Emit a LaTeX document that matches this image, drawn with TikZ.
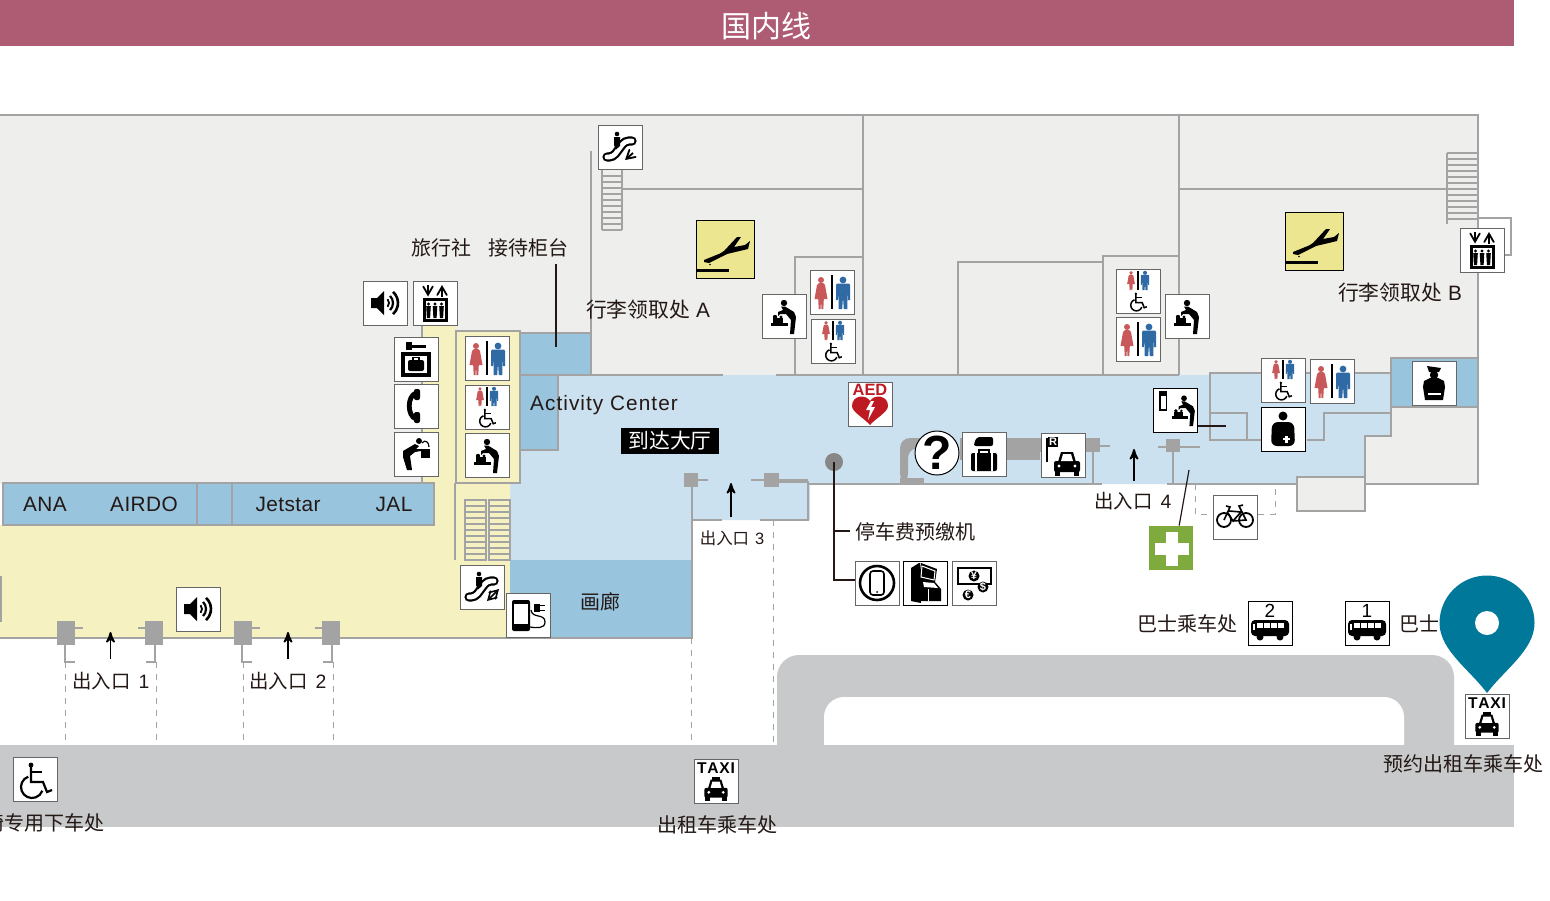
\documentclass[tikz,border=0pt]{standalone}
\usepackage{fontspec}
\setmainfont{Liberation Sans}
\newfontfamily\cjk{Noto Sans CJK SC}
\usetikzlibrary{arrows,positioning}

\definecolor{banner}{HTML}{AE5B74}
\definecolor{floorgray}{HTML}{EEEEEC}
\definecolor{wallgray}{HTML}{A3A3A3}
\definecolor{hallblue}{HTML}{CCE1EF}
\definecolor{roomblue}{HTML}{98C4DD}
\definecolor{lobbyyellow}{HTML}{F5F1C0}
\definecolor{roadgray}{HTML}{C8C9CA}
\definecolor{planeyellow}{HTML}{ECE690}
\definecolor{ink}{HTML}{231815}
\definecolor{wcred}{HTML}{C9585A}
\definecolor{wcblue}{HTML}{2F6AA5}
\definecolor{aedred}{HTML}{BE1A22}
\definecolor{crossgreen}{HTML}{7FAB3E}
\definecolor{pinteal}{HTML}{007899}

\tikzset{
  iconbox/.style={draw=black!60,fill=white,minimum size=22pt,inner sep=0pt,line width=.5pt},
  lbl/.style={text=ink,inner sep=0pt,font=\fontsize{10.4}{12}\selectfont},
  cjklbl/.style={text=ink,inner sep=0pt,font=\cjk\fontsize{10}{12}\selectfont},
  wall/.style={draw=wallgray,line width=1.4pt},
  lead/.style={draw=ink,line width=.6pt},
  walkin/.style={->,>=stealth',draw=black,line width=.9pt},
  rung/.style={draw=wallgray,line width=.7pt},
  womanfig/.pic={
    \fill[wcred] (0,-12) circle (3);
    \fill[wcred] (-2,-9) -- (2,-9) -- (4,-7) -- (6.5,7) -- (2.8,7) -- (2.3,17) -- (.5,17) -- (0,8)
      -- (-.5,17) -- (-2.3,17) -- (-2.8,7) -- (-6.5,7) -- (-4,-7) -- cycle;
  },
  manfig/.pic={
    \fill[wcblue] (0,-12) circle (3.4);
    \fill[wcblue] (-6,-8.5) -- (6,-8.5) -- (7,-7) -- (7,8) -- (5.2,8) -- (4.7,-2) -- (4.3,17) -- (.8,17) -- (0,5)
      -- (-.8,17) -- (-4.3,17) -- (-4.7,-2) -- (-5.2,8) -- (-7,8) -- (-7,-7) -- cycle;
  },
  wc/.pic={
    \pic at (-11,0) {womanfig};
    \pic at (11,0) {manfig};
    \fill[black] (-1.2,-17) rectangle (1.2,17);
  },
  wheelchair/.pic={
    \fill (-4,-14) circle (2.4);
    \draw (-4,-13) -- (-4,3) -- (8,3) -- (12,13) -- (17,11);
    \draw (-4,-7) -- (7,-7);
    \draw (-3,8) ++(-110:11) arc (-110:-340:11);
  },
  wcd/.pic={
    \pic[scale=.6] at (-7,-11) {womanfig};
    \pic[scale=.6] at (7,-11) {manfig};
    \fill[black] (-.6,-20) rectangle (.6,-1);
    \pic[scale=.52,line width=.75pt] at (0,10) {wheelchair};
  },
  speaker/.pic={
    \fill (-14,-5) -- (-8,-5) -- (-1,-12) -- (-1,12) -- (-8,5) -- (-14,5) -- cycle;
    \draw[line width=.9pt] (-2,0) ++(-40:6) arc (-40:40:6);
    \draw[line width=1.1pt] (-2,0) ++(-45:10) arc (-45:45:10);
    \draw[line width=1.3pt] (-2,0) ++(-48:15) arc (-48:48:15);
  },
  liftbox/.pic={
    \draw[->,>=angle 60,line width=.9pt] (-7,-18) -- (-7,-6.5);
    \draw[->,>=angle 60,line width=.9pt] (7,-6.5) -- (7,-18);
    \draw[line width=1.5pt] (-11,-4) rectangle (11,17);
    \foreach \px in {-6.5,0,6.5} {
      \fill (\px,1) circle (1.6);
      \fill (\px-2.3,3) -- (\px+2.3,3) -- (\px+1.6,15) -- (\px-1.6,15) -- cycle;
    }
  },
  escalator/.pic={
    \draw[line width=4.6pt,line cap=round,rounded corners=2pt] (-13,10) -- (-7,10) -- (5,-6) -- (12,-6);
    \draw[white,line width=2.4pt,line cap=round,rounded corners=2pt] (-13,10) -- (-7,10) -- (5,-6) -- (12,-6);
    \fill (-3,-13) circle (2.3);
    \fill (-6,-10) -- (0,-10) -- (0,-1) -- (-4,2.5) -- (-6,-2) -- cycle;
  },
  locker/.pic={
    \fill (-10,-17) rectangle (-4,-9);
    \fill (-4,-14.5) rectangle (10,-11.5);
    \draw[line width=1.6pt] (-13,-5) rectangle (13,16);
    \fill[rounded corners=1] (-8,1) rectangle (8,12);
    \draw[line width=.7pt] (-3,1) -- (-3,-1.5) -- (3,-1.5) -- (3,1);
  },
  handset/.pic={
    \draw[line width=2.4pt] (0,-13) .. controls (-9,-10) and (-9,10) .. (0,13);
    \fill[rounded corners=1] (-2,-17) rectangle (4,-6);
    \fill[rounded corners=1] (-2,6) rectangle (4,17);
  },
  fountain/.pic={
    \fill (3,-13) circle (3);
    \fill (-13,-3) -- (-1,-10) -- (3,-8) -- (0,-5) -- (5,-5) -- (5,-3) -- (-1,-2) -- (-6,2)
      -- (-4,16) -- (-9,16) -- (-13,3) -- cycle;
    \fill (5,-5) rectangle (14,4);
    \draw[line width=.6pt] (6,-11) .. controls (9,-15) and (13,-12) .. (13,-7);
  },
  babyfig/.pic={
    \fill (0,-13) circle (3.2);
    \fill (-3,-9.5) -- (1,-9.5) -- (10,-4) -- (12,1) -- (10,18) -- (6,18) -- (7,4) -- (2,-2)
      -- (-4,-2) -- (-6,0) -- (-6,-4) -- (-1,-6) -- cycle;
    \fill (-13,7) rectangle (4,10);
    \fill (-11,2) rectangle (-1,7);
    \fill (-9,1) circle (2.2);
    \fill (-3,1) circle (1.6);
  },
  arrivalplane/.pic={
    \fill (-21,11) -- (-5,4.5) -- (-1,2) -- (12,-12) -- (16,-12) -- (9,-2) -- (20,-4) -- (25,-8) -- (23,0)
      -- (2,5) -- (-16,14) -- (-21,13) -- cycle;
    \fill (-15,15.5) circle (.9);
    \fill (-29,20) rectangle (4,23);
  },
  aedmark/.pic={
    \node[font=\bfseries\fontsize{8.2}{9}\selectfont,text=aedred,inner sep=0pt] at (0,-14.5) {AED};
    \fill[aedred] (0,21) .. controls (-6,14) and (-18,8) .. (-18,2) .. controls (-18,-9) and (-4,-10) .. (0,-3)
      .. controls (4,-10) and (18,-9) .. (18,2) .. controls (18,8) and (6,14) .. (0,21) -- cycle;
    \fill[white] (1,-3) -- (-4,6) -- (0,6) -- (-2,16) -- (5,3) -- (1,3) -- (4,-3) -- cycle;
  },
  luggage/.pic={
    \fill[rounded corners=1] (-7,-17) -- (9,-17) -- (9,-8) -- (-10,-8) -- (-10,-11) -- cycle;
    \draw[line width=.9pt] (-5,-1) -- (-5,-4) -- (5,-4) -- (5,-1);
    \fill[rounded corners=1] (-13,-1) rectangle (13,17);
    \draw[white,line width=.6pt] (-8,-1) -- (-8,17) (8,-1) -- (8,17);
  },
  carfig/.pic={
    \fill[rounded corners=1] (-13,2) rectangle (13,13);
    \fill (-9,3) -- (-6,-7) -- (6,-7) -- (9,3) -- cycle;
    \fill[white] (-6,2) -- (-4,-5) -- (4,-5) -- (6,2) -- cycle;
    \fill (-12,12) rectangle (-7,17); \fill (7,12) rectangle (12,17);
    \fill[white] (-8,7) circle (1.7); \fill[white] (8,7) circle (1.7);
  },
  rentcar/.pic={
    \pic at (4,4) {carfig};
    \draw[line width=.7pt] (-16,-17) -- (-16,7);
    \fill (-15,-18) rectangle (-5,-8);
    \node[font=\bfseries\fontsize{5.5}{6}\selectfont,text=white,inner sep=0pt] at (-10,-13) {R};
  },
  phonering/.pic={
    \draw[line width=1.3pt] (0,0) circle (17);
    \draw[line width=.8pt,rounded corners=1.5] (-7,-12) rectangle (7,12);
    \fill (0,9) circle (1);
  },
  ticketbox/.pic={
    \fill (-14,-15) -- (-6,-20) -- (-5,-20) -- (-4,20) -- (-14,18) -- cycle;
    \fill (-6,-4) -- (-4,-20) -- (12,-14) -- (10,-1) -- (16,6) -- (16,18) -- (-6,18) -- cycle;
    \draw[white,line width=.5pt] (-3,-17) -- (10,-12) -- (9,-3) -- (-4,-6) -- cycle;
    \fill[white] (-2,-1) -- (9,0) -- (13,5) -- (-1,4) -- cycle;
    \draw[white,line width=.5pt] (3,18) -- (3,6);
  },
  cashbox/.pic={
    \draw[line width=1pt] (-16,-15) rectangle (17,1);
    \fill (0,-7) circle (5.5);
    \node[font=\bfseries\fontsize{5.5}{6}\selectfont,text=white,inner sep=0pt] at (0,-7) {¥};
    \fill (9,4) circle (5.5);
    \node[font=\bfseries\fontsize{5.5}{6}\selectfont,text=white,inner sep=0pt] at (9,4) {\$};
    \fill (-6,12) circle (5.5);
    \node[font=\bfseries\fontsize{5.5}{6}\selectfont,text=white,inner sep=0pt] at (-6,12) {€};
  },
  bikefig/.pic={
    \draw[line width=.9pt] (-11,3) circle (7);
    \draw[line width=.9pt] (11,3) circle (7);
    \draw[line width=.8pt] (-11,3) -- (-5,-10) -- (-9,-11) (-6,-6) -- (6,-5) -- (-2,4) -- (-7,-4)
      (-2,4) -- (11,3) -- (4,-11) -- (8,-12);
  },
  officer/.pic={
    \fill (-7,-17) -- (7,-15) -- (5,-11) -- (-5,-11) -- cycle;
    \fill (0,-8) circle (4.2);
    \fill (-4,-5) -- (4,-5) -- (10,-2) -- (11,4) -- (9,17) -- (-9,17) -- (-11,4) -- (-10,-2) -- cycle;
    \fill[white] (-6,10) rectangle (7,12);
  },
  aidperson/.pic={
    \fill (0,-13) circle (4.5);
    \fill[rounded corners=3] (-11,-7) -- (11,-7) -- (12,17) -- (-12,17) -- cycle;
    \fill[white] (0,8.7) rectangle (7,11.3); \fill[white] (2.2,6.5) rectangle (4.8,13.5);
  },
  chargefig/.pic={
    \fill[rounded corners=1] (-16,-15) rectangle (2,16);
    \fill[white] (-14,-11) rectangle (0,9);
    \draw[line width=.6pt] (3,-5) .. controls (4,4) and (17,-2) .. (17,7) .. controls (17,14) and (8,13) .. (2,12);
    \fill (6,-11) rectangle (12,-3);
    \fill (12,-10) rectangle (17,-8.7); \fill (12,-5.5) rectangle (17,-4.2);
  },
  busfig/.pic={
    \fill[rounded corners=2] (-19,-3) rectangle (19,13);
    \foreach \wx in {-13,-6,1,8} { \fill[white] (\wx,0) rectangle (\wx+5.5,5); }
    \fill[white] (-17,1) rectangle (-15,7);
    \fill (-10,14) circle (3.5); \fill (10,14) circle (3.5);
  },
  taxifig/.pic={
    \node[font=\bfseries\fontsize{7.8}{9}\selectfont,inner sep=0pt] at (0,-13) {T\hspace{.4pt}A\hspace{.4pt}X\hspace{.4pt}I};
    \pic[scale=.9] at (0,5) {carfig};
    \fill (-4,-4) rectangle (4,-1);
  }
}

\begin{document}
\begin{tikzpicture}[x=.5pt,y=-.5pt]
  \useasboundingbox (0,0) rectangle (1550,900);
  \fill[white] (0,0) rectangle (1550,900);

  % band and road
  \fill[banner] (0,0) rectangle (1514,46);
  \fill[roadgray,rounded corners=11pt] (777,800) -- (777,655) -- (1454,655) -- (1454,800) -- cycle;
  \fill[white,rounded corners=10pt] (824,800) -- (824,697) -- (1404,697) -- (1404,800) -- cycle;
  \fill[roadgray] (0,745) rectangle (1514,827);

  % floors
  \fill[floorgray] (0,115) rectangle (1478,484);
  \fill[floorgray] (1297,477) rectangle (1365,511);
  \fill[hallblue] (510,375) -- (1210,375) -- (1210,373) -- (1391,373) -- (1391,436) -- (1365,436) -- (1365,477)
    -- (1297,477) -- (1297,484) -- (810,484) -- (810,520) -- (692,520) -- (692,560) -- (510,560) -- cycle;
  \fill[lobbyyellow] (0,525) -- (434,525) -- (434,483) -- (422,483) -- (422,325) -- (456,325) -- (456,331)
    -- (520,331) -- (520,483) -- (510,483) -- (510,638) -- (0,638) -- cycle;
  \fill[roomblue] (3,483) rectangle (434,525);
  \fill[roomblue] (520,333) rectangle (591,375);
  \fill[roomblue] (520,375) rectangle (558,450);
  \fill[roomblue] (510,560) rectangle (692,638);
  \fill[roomblue] (1391,358) rectangle (1478,407);

  % walls
  \draw[wall] (0,115) -- (1478,115) -- (1478,484) -- (1365,484);
  \draw[wall] (1478,218) -- (1511,218) -- (1511,255) -- (1500,255);
  \draw[wall] (591,151) -- (591,375) (623,189) -- (863,189) (863,115) -- (863,375);
  \draw[wall] (1179,115) -- (1179,375) (1179,189) -- (1447,189);
  \draw[wall] (795,375) -- (795,257) -- (863,257);
  \draw[wall] (958,375) -- (958,262) -- (1103,262) (1103,375) -- (1103,256) -- (1179,256);
  \draw[wall] (520,375) -- (723,375) (776,375) -- (1179,375);
  \draw[wall] (520,333) -- (591,333) (558,375) -- (558,450) -- (520,450);
  \draw[wall] (456,331) rectangle (520,483);
  \draw[wall,line width=1pt] (422,325) -- (422,483);
  \draw[wall] (455,483) -- (455,560);
  \draw[wall] (3,483) rectangle (434,525);
  \draw[wall] (197,483) -- (197,525) (232,483) -- (232,525);
  \draw[wall,line width=.8pt] (-5,577) rectangle (1,621);
  \draw[wall] (0,638) -- (692,638) -- (692,480);
  \draw[wall] (692,520) -- (722,520) (760,520) -- (808,520) -- (808,482) -- (765,482);
  \draw[wall] (808,484) -- (1102,484) (1167,484) -- (1297,484);
  \draw[wall] (1297,484) -- (1297,477) -- (1365,477) -- (1365,511) -- (1297,511) -- (1297,484);
  \draw[wall] (1365,484) -- (1365,436) -- (1391,436) -- (1391,358) -- (1478,358) (1391,407) -- (1478,407);
  \draw[wall] (1391,373) -- (1210,373) -- (1210,440) -- (1261,440);
  \draw[wall] (1210,413) -- (1247,413) -- (1247,440);
  \draw[wall] (1307,440) -- (1324,440) -- (1324,413) -- (1391,413);

  % stairs
  \draw[wall] (602,170) -- (602,230) (622,170) -- (622,230);
  \foreach \sy in {176,182,...,230} { \draw[rung] (602,\sy) -- (622,\sy); }
  \draw[rung] (1447,153) -- (1447,224);
  \foreach \sy in {153,159,...,222} { \draw[rung] (1447,\sy) -- (1478,\sy); }
  \draw[wall] (465,500) rectangle (486,560) (489,500) rectangle (510,560);
  \foreach \sy in {506,512,...,556} { \draw[rung] (465,\sy) -- (486,\sy) (489,\sy) -- (510,\sy); }

  % entrance gates
  \foreach \gx in {0,177} {
    \fill[wallgray] (57+\gx,621) rectangle (75+\gx,645);
    \fill[wallgray] (145+\gx,621) rectangle (163+\gx,645);
    \draw[wall] (75+\gx,628) -- (83+\gx,628) (145+\gx,628) -- (138+\gx,628);
    \draw[wall] (65+\gx,645) -- (65+\gx,662) -- (75+\gx,662);
    \draw[wall] (155+\gx,645) -- (155+\gx,662) -- (146+\gx,662);
  }
  \fill[wallgray] (684,473) rectangle (698,487);
  \draw[wall] (698,480) -- (708,480);
  \fill[wallgray] (764,473) rectangle (779,487);
  \draw[wall] (751,480) -- (808,480);
  \fill[wallgray,rounded corners=5pt] (900,484) -- (900,438) -- (945,438) -- (945,448) -- (908,448) -- (908,484) -- cycle;
  \fill[wallgray] (900,478) rectangle (924,484);
  \fill[wallgray] (960,438) rectangle (1040,460);
  \fill[wallgray] (1040,438) rectangle (1100,452);
  \draw[wall] (1100,446) -- (1110,446) (1093,452) -- (1093,484);
  \fill[wallgray] (1166,439) rectangle (1180,452);
  \draw[wall] (1158,447) -- (1200,447) (1173,452) -- (1173,484);

  % dashed ways
  \foreach \dx/\dy in {65/662,156/662,243/662,333/662,691/638,773/520} {
    \draw[wall,line width=.5pt,dashed] (\dx,\dy) -- (\dx,745);
  }
  \draw[wall,line width=.5pt,dashed] (1195,484) -- (1195,514) -- (1213,514) (1258,514) -- (1275,514) -- (1275,484);

  % icons
  \node[iconbox] (speaker_a) at (385,303) {};
  \node[iconbox] (lift_a) at (435,303) {};
  \node[iconbox] (locker_a) at (416,359) {};
  \node[iconbox] (phone_a) at (416,406) {};
  \node[iconbox] (water_a) at (416,454) {};
  \node[iconbox] (wc_a) at (487,358) {};
  \node[iconbox] (wcd_a) at (487,407) {};
  \node[iconbox] (baby_a) at (487,455) {};
  \node[iconbox] (esc_a) at (620,147) {};
  \node[iconbox,fill=planeyellow,draw=black,minimum size=29pt] (plane_a) at (725,249) {};
  \node[iconbox] (baby_b) at (784,316) {};
  \node[iconbox] (wc_b) at (832,292) {};
  \node[iconbox] (wcd_b) at (833,341) {};
  \node[iconbox] (aed_a) at (870,404) {};
  \node[iconbox,circle,draw=black,minimum size=22pt] (info_a) at (937,453) {};
  \node[iconbox] (bag_a) at (984,454) {};
  \node[iconbox] (rent_a) at (1063,455) {};
  \node[iconbox] (pay_a) at (877,583) {};
  \node[iconbox,draw=black] (pay_b) at (925,583) {};
  \node[iconbox] (pay_c) at (974,583) {};
  \node[iconbox,draw=black] (baby_c) at (1175,410) {};
  \node[iconbox] (wcd_c) at (1283,380) {};
  \node[iconbox] (wc_c) at (1332,381) {};
  \node[iconbox,draw=black] (aid_a) at (1283,429) {};
  \node[iconbox] (guard_a) at (1434,383) {};
  \node[iconbox] (baby_d) at (1187,316) {};
  \node[iconbox] (wcd_d) at (1138,291) {};
  \node[iconbox] (wc_d) at (1138,339) {};
  \node[iconbox,fill=planeyellow,draw=black,minimum size=29pt] (plane_b) at (1314,241) {};
  \node[iconbox] (lift_b) at (1482,250) {};
  \node[iconbox] (esc_b) at (482,587) {};
  \node[iconbox] (plug_a) at (528,615) {};
  \node[iconbox] (speaker_b) at (198,609) {};
  \node[iconbox] (bike_a) at (1235,517) {};
  \node[fill=crossgreen,minimum size=22pt,inner sep=0pt] (cross_a) at (1171,548) {};
  \node[iconbox,draw=black] (bus_b) at (1270,623) {};
  \node[iconbox,draw=black] (bus_a) at (1367,623) {};
  \node[iconbox] (taxi_a) at (716,781) {};
  \node[iconbox] (taxi_b) at (1487,716) {};
  \node[iconbox] (chair_a) at (35,779) {};

  \pic at (speaker_a) {speaker};
  \pic at (speaker_b) {speaker};
  \pic at (lift_a) {liftbox};
  \pic at (lift_b) {liftbox};
  \pic at (locker_a) {locker};
  \pic at (phone_a) {handset};
  \pic at (water_a) {fountain};
  \foreach \wcname in {wc_a,wc_b,wc_c,wc_d} { \pic at (\wcname) {wc}; }
  \foreach \wcname in {wcd_a,wcd_b,wcd_c,wcd_d} { \pic at (\wcname) {wcd}; }
  \foreach \bname in {baby_a,baby_b,baby_d} { \pic at (\bname) {babyfig}; }
  \pic[scale=.9,xshift=5] at (baby_c) {babyfig};
  \fill[black] (1159,391) rectangle (1167,411);
  \fill[white] (1160.5,396) rectangle (1165.5,409);
  \pic at (esc_a) {escalator};
  \draw[->,>=angle 60,line width=.9pt] (633,153) -- (625,160);
  \pic at (esc_b) {escalator};
  \draw[<->,>=angle 60,line width=.8pt] (487,601) -- (499,589);
  \pic at (plane_a) {arrivalplane};
  \pic at (plane_b) {arrivalplane};
  \pic at (aed_a) {aedmark};
  \node[font=\bfseries\fontsize{24}{26}\selectfont,inner sep=0pt] at (info_a) {?};
  \pic at (bag_a) {luggage};
  \pic at (rent_a) {rentcar};
  \pic at (pay_a) {phonering};
  \pic at (pay_b) {ticketbox};
  \pic at (pay_c) {cashbox};
  \pic at (aid_a) {aidperson};
  \pic at (guard_a) {officer};
  \pic at (bike_a) {bikefig};
  \pic at (plug_a) {chargefig};
  \pic[line width=1.1pt] at (chair_a) {wheelchair};
  \fill[white] (1154.5,542.5) rectangle (1188.5,554.5);
  \fill[white] (1165.5,531.5) rectangle (1177.5,565.5);
  \foreach \bname/\bnum in {bus_a/1,bus_b/2} {
    \pic at (\bname) {busfig};
    \node[font=\fontsize{9.5}{10}\selectfont,inner sep=0pt,yshift=6pt] at (\bname) {\bnum};
  }
  \pic at (taxi_a) {taxifig};
  \pic at (taxi_b) {taxifig};

  % map pin
  \fill[pinteal] (1487,693) .. controls (1470,670) and (1439.5,650) .. (1439.5,623) arc (180:360:47.5)
    .. controls (1534.5,650) and (1504,670) .. (1487,693) -- cycle;
  \fill[white] (1487,623) circle (12);

  % labels
  \node[text=white,inner sep=0pt,font=\cjk\fontsize{15}{16}\selectfont] (title_a) at (766,26) {国内线};
  \node[cjklbl] (agent_a) at (489.5,248) {旅行社\hspace{8.5pt}接待柜台};
  \node[lbl] (claim_a) at (648,310) {{\cjk 行李领取处}\hspace{3pt}A};
  \node[lbl] (claim_b) at (1400,293) {{\cjk 行李领取处}\hspace{3pt}B};
  \node[lbl] (activity_a) at (604,405) {\addfontfeature{LetterSpace=5}Activity Center};
  \node[fill=black,text=white,font=\cjk\fontsize{10.4}{12}\selectfont,inner sep=1pt,minimum width=49pt,minimum height=13pt] (arrive_a) at (670,441) {到达大厅};
  \node[cjklbl] (gallery_a) at (600,602) {画廊};
  \foreach \cname/\cx in {ANA/45,AIRDO/144,Jetstar/288,JAL/394} {
    \node[lbl] (desk_\cname) at (\cx,504) {\addfontfeature{LetterSpace=2}\cname};
  }
  \node[lbl,font=\fontsize{9.7}{12}\selectfont] (door_a) at (111,681.5) {{\cjk 出入口}\hspace{4pt}1};
  \node[lbl,font=\fontsize{9.7}{12}\selectfont] (door_b) at (288,681.5) {{\cjk 出入口}\hspace{4pt}2};
  \node[lbl,font=\fontsize{8.2}{10}\selectfont] (door_c) at (732,538.5) {{\cjk 出入口}\hspace{3pt}3};
  \node[lbl,font=\fontsize{9.7}{12}\selectfont] (door_d) at (1133,501.5) {{\cjk 出入口}\hspace{4pt}4};
  \node[cjklbl] (paybox_a) at (915,532) {停车费预缴机};
  \node[cjklbl] (busstop_b) at (1187,624) {巴士乘车处};
  \node[cjklbl,anchor=west] (busstop_a) at (1399,624) {巴士};
  \node[cjklbl] (taxistop_b) at (1463,764) {预约出租车乘车处};
  \node[cjklbl] (taxistop_a) at (717,825) {出租车乘车处};
  \node[cjklbl,anchor=east] (chairstop_a) at (105,823) {轮椅专用下车处};

  % connectors
  \coordinate (agent_top) at (556,264);
  \coordinate (agent_end) at (556,347);
  \draw[lead] (agent_top) -- (agent_end);
  \coordinate (pay_dot) at (834,462);
  \fill[black!47] (pay_dot) circle (9);
  \coordinate (pay_turn) at (834,580);
  \draw[lead] (pay_dot) -- (pay_turn) -- (pay_a.west |- pay_turn);
  \coordinate (pay_branch) at (834,531);
  \draw[lead] (pay_branch) -- ([xshift=-2.5pt]paybox_a.west |- pay_branch);
  \coordinate (baby_c_out) at (1226,426);
  \draw[lead] (baby_c.east |- baby_c_out) -- (baby_c_out);
  \coordinate (cross_top) at (1189,470);
  \draw[lead] (cross_top) -- (cross_a.70);

  % way in
  \coordinate (door_a_s) at (110.5,659);
  \coordinate (door_a_n) at (110.5,632);
  \coordinate (door_b_s) at (288,659);
  \coordinate (door_b_n) at (288,632);
  \coordinate (door_c_s) at (731,517);
  \coordinate (door_c_n) at (731,483);
  \coordinate (door_d_s) at (1134,481);
  \coordinate (door_d_n) at (1134,449);
  \foreach \dname in {door_a,door_b,door_c,door_d} {
    \draw[walkin] (\dname_s) -- (\dname_n);
  }
\end{tikzpicture}
\end{document}
